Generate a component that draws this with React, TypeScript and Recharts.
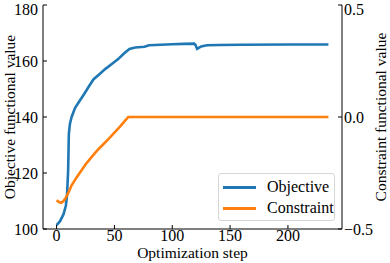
import { LineChart, Line, XAxis, YAxis, Legend, Label } from 'recharts';

// Values (optimization history)
const objective = [
  { step: 0, value: 101.4 }, { step: 3, value: 102.8 }, { step: 6, value: 105.3 },
  { step: 8, value: 108.3 }, { step: 9, value: 112 }, { step: 10, value: 121 },
  { step: 10.6, value: 134 }, { step: 11.5, value: 137.5 }, { step: 13, value: 140 },
  { step: 16, value: 143.3 }, { step: 20, value: 145.8 }, { step: 24, value: 148.3 },
  { step: 28, value: 151 }, { step: 32, value: 153.5 }, { step: 37, value: 155.3 },
  { step: 42, value: 157.1 }, { step: 48, value: 159 }, { step: 53, value: 160.6 },
  { step: 58, value: 162.6 }, { step: 63, value: 164.3 }, { step: 68, value: 164.8 },
  { step: 76, value: 165.1 }, { step: 80, value: 165.6 }, { step: 90, value: 165.8 },
  { step: 100, value: 166 }, { step: 110, value: 166.1 }, { step: 119, value: 166.2 },
  { step: 120, value: 165.8 }, { step: 121.5, value: 164.3 }, { step: 125, value: 165.2 },
  { step: 130, value: 165.6 }, { step: 140, value: 165.7 }, { step: 160, value: 165.8 },
  { step: 200, value: 165.9 }, { step: 235, value: 165.9 },
];

const constraint = [
  { step: 0, value: -0.372 }, { step: 2, value: -0.38 }, { step: 4, value: -0.383 },
  { step: 6, value: -0.375 }, { step: 8, value: -0.36 }, { step: 10, value: -0.34 },
  { step: 13, value: -0.305 }, { step: 17, value: -0.272 }, { step: 21, value: -0.242 },
  { step: 25, value: -0.212 }, { step: 30, value: -0.18 }, { step: 35, value: -0.15 },
  { step: 40, value: -0.124 }, { step: 45, value: -0.098 }, { step: 50, value: -0.07 },
  { step: 55, value: -0.042 }, { step: 60, value: -0.012 }, { step: 62, value: 0 },
  { step: 100, value: 0 }, { step: 150, value: 0 }, { step: 200, value: 0 }, { step: 235, value: 0 },
];

const seriesOrder = ['Objective', 'Constraint'];
const stepTicks = [0, 50, 100, 150, 200];
const objectiveTicks = [100, 120, 140, 160, 180];
const constraintTicks = [-0.5, 0, 0.5];

const FONT = '"Liberation Serif", "Times New Roman", serif';
const tickStyle = { fill: '#000', fontSize: 16, fontFamily: FONT };
const titleStyle = { fill: '#000', fontSize: 15.5, fontFamily: FONT, textAnchor: 'middle' as const };

const fmtConstraint = (v: number) => v.toFixed(1).replace('-', '\u2212');

const LegendBox = ({ payload }: any) => {
  const items = [...(payload ?? [])].sort(
    (a: any, b: any) => seriesOrder.indexOf(a.value) - seriesOrder.indexOf(b.value),
  );
  return (
    <div
      style={{
        width: 117, height: 48, boxSizing: 'border-box',
        border: '1px solid #d6d6d6', borderRadius: 3, background: 'rgba(255,255,255,0.8)',
        fontFamily: FONT, fontSize: 16, color: '#000', position: 'relative',
      }}
    >
      {items.map((p: any, i: number) => (
        <div key={p.value} style={{ position: 'absolute', left: 0, top: 3 + i * 21, height: 20, display: 'flex', alignItems: 'center' }}>
          <span style={{ display: 'inline-block', marginLeft: 4, width: 33, height: 3, background: p.color }} />
          <span style={{ marginLeft: 11, lineHeight: '20px' }}>{p.value}</span>
        </div>
      ))}
    </div>
  );
};

export default function App() {
  return (
    <div style={{ position: 'absolute', left: 0, top: 0, width: 390, height: 263, background: '#fff' }}>
      <LineChart width={390} height={263} margin={{ top: 5, right: 0, bottom: 0, left: 0 }}>
        <XAxis
          dataKey="step" type="number" domain={[-11.75, 246.75]} ticks={stepTicks} allowDataOverflow
          height={34} tickSize={-4} tickMargin={5} tick={tickStyle}
          axisLine={{ stroke: '#000' }} tickLine={{ stroke: '#000' }}
        >
          <Label value="Optimization step" position="insideBottom" offset={5} style={titleStyle} />
        </XAxis>
        <XAxis xAxisId="top" orientation="top" type="number" domain={[-11.75, 246.75]} height={0} tick={false} tickLine={false} axisLine={{ stroke: '#000' }} />
        <YAxis
          yAxisId="obj" dataKey="value" type="number" domain={[100, 180]} ticks={objectiveTicks} allowDataOverflow
          width={43} tickSize={-4} tickMargin={9} tick={tickStyle}
          axisLine={{ stroke: '#000' }} tickLine={{ stroke: '#000' }}
        >
          <Label value="Objective functional value" angle={-90} position="center" dx={-12} style={titleStyle} />
        </YAxis>
        <YAxis
          yAxisId="con" orientation="right" dataKey="value" type="number" domain={[-0.5, 0.5]} ticks={constraintTicks} allowDataOverflow
          width={48} tickSize={-4} tickMargin={6} tick={tickStyle} tickFormatter={fmtConstraint}
          axisLine={{ stroke: '#000' }} tickLine={{ stroke: '#000' }}
        >
          <Label value="Constraint functional value" angle={-90} position="center" dx={14} style={titleStyle} />
        </YAxis>
        <Legend
          layout="horizontal" verticalAlign="middle" align="center"
          wrapperStyle={{ position: 'absolute', left: 218, top: 173, width: 117, height: 48 }}
          content={<LegendBox />}
        />
        <Line data={objective} yAxisId="obj" dataKey="value" name="Objective" stroke="#1f77b4" strokeWidth={2.6} dot={false} isAnimationActive={false} />
        <Line data={constraint} yAxisId="con" dataKey="value" name="Constraint" stroke="#ff7f0e" strokeWidth={2.6} dot={false} isAnimationActive={false} />
      </LineChart>
    </div>
  );
}
